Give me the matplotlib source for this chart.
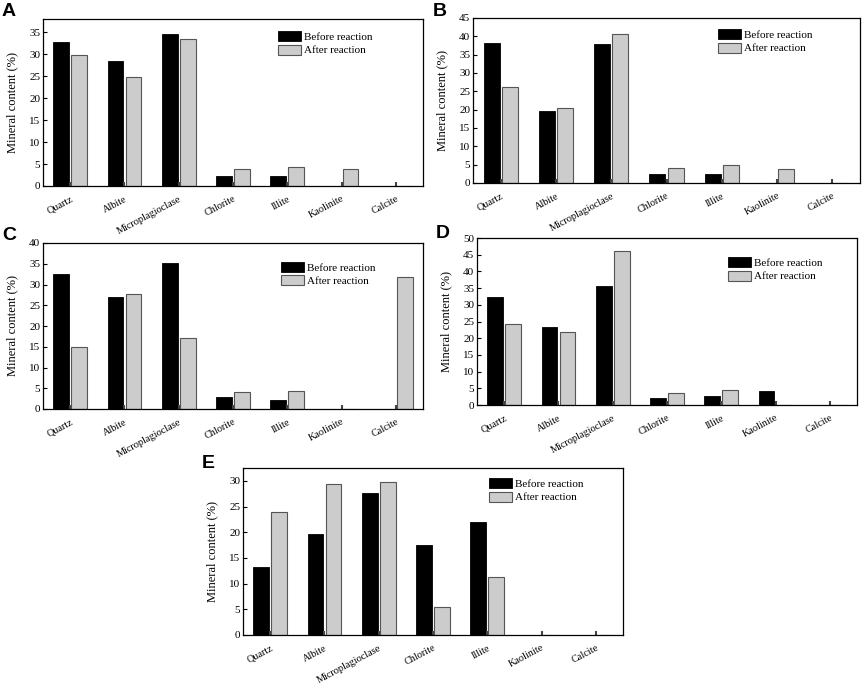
import matplotlib.pyplot as plt
import numpy as np

plt.rcParams['font.family'] = ['Liberation Serif', 'DejaVu Serif']

# data
minerals = ['Quartz', 'Albite', 'Microplagioclase', 'Chlorite', 'Illite', 'Kaolinite', 'Calcite']
before_A = [32.8, 28.4, 34.5, 2.25, 2.25, 0, 0]
after_A = [29.8, 24.9, 33.5, 3.8, 4.4, 3.9, 0]
before_B = [38.3, 19.7, 37.8, 2.35, 2.35, 0, 0]
after_B = [26.3, 20.4, 40.7, 4.15, 4.8, 3.9, 0]
before_C = [32.6, 27.0, 35.2, 3.0, 2.25, 0, 0]
after_C = [14.9, 27.6, 17.1, 4.0, 4.3, 0, 31.8]
before_D = [32.3, 23.5, 35.7, 2.2, 2.7, 4.2, 0]
after_D = [24.2, 22.0, 46.2, 3.5, 4.5, 0, 0]
before_E = [13.2, 19.6, 27.6, 17.5, 21.9, 0, 0]
after_E = [23.9, 29.4, 29.7, 5.5, 11.2, 0, 0]

panels = [
    ('A', before_A, after_A, 38, 5),
    ('B', before_B, after_B, 45, 5),
    ('C', before_C, after_C, 40, 5),
    ('D', before_D, after_D, 50, 5),
    ('E', before_E, after_E, 32.5, 5),
]
# axes rectangles in pixels: left, top, right, bottom
boxes = [
    (43, 19, 423, 186),
    (473, 18, 860, 183),
    (43, 243, 423, 409),
    (477, 238, 857, 405),
    (243, 468, 623, 635),
]
legend_pos = [(0.618, 0.928), (0.633, 0.933), (0.626, 0.886), (0.66, 0.886), (0.647, 0.94)]
letter_pos = [(2, 12), (433, 12), (2, 235), (436, 233), (202, 463)]

W, H = 865, 685
fig = plt.figure(figsize=(W / 100, H / 100), dpi=100)

x = np.arange(len(minerals))
w = 0.29
for (lab, bef, aft, ymax, step), (l, t, r, b), lp, (tx, ty) in zip(panels, boxes, legend_pos, letter_pos):
    ax = fig.add_axes([l / W, 1 - b / H, (r - l) / W, (b - t) / H])
    ax.bar(x - 0.165, bef, w, color='black', edgecolor='black', linewidth=0.6, label='Before reaction')
    ax.bar(x + 0.165, aft, w, color='#cccccc', edgecolor='#555555', linewidth=0.8, label='After reaction')
    ax.set_xlim(-0.5, 6.5)
    ax.set_ylim(0, ymax)
    ax.set_yticks(np.arange(0, ymax + 0.1, step))
    ax.set_xticks(x)
    ax.set_xticklabels(minerals, rotation=28, ha='right', rotation_mode='anchor', fontsize=7.4)
    ax.tick_params(axis='x', direction='in', length=3, width=1.5, color='#444444', pad=6)
    ax.tick_params(axis='y', direction='in', length=3, width=0.8, labelsize=8, pad=2)
    for s in ax.spines.values():
        s.set_linewidth(0.9)
    ax.set_ylabel('Mineral content (%)', fontsize=9, labelpad=8)
    ax.legend(loc='upper left', bbox_to_anchor=lp, frameon=False, fontsize=8,
              handlelength=2.05, handleheight=1.0, labelspacing=0.25, handletextpad=0.3,
              borderaxespad=0, borderpad=0)
    fig.text(tx / W, 1 - ty / H, lab, fontsize=14, fontweight='bold',
             family='Liberation Sans', va='center', ha='left')

fig.savefig('out.png', dpi=100)
